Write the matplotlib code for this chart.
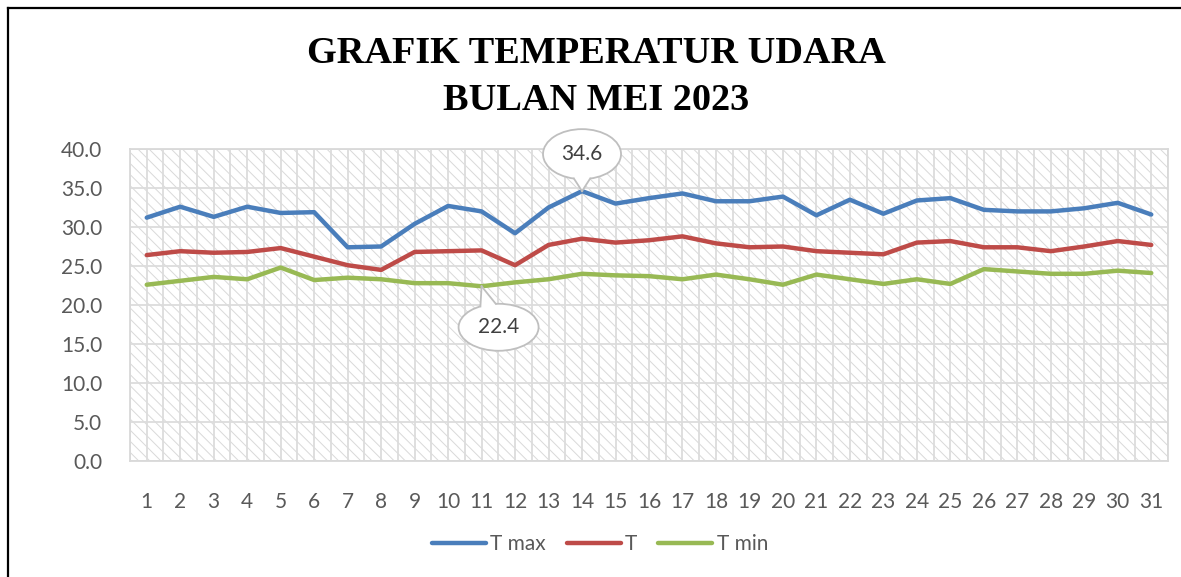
import matplotlib
matplotlib.use('Agg')
import matplotlib.pyplot as plt
from matplotlib.patches import Ellipse, Polygon
from matplotlib.lines import Line2D
from matplotlib.transforms import ScaledTranslation
from matplotlib.ticker import FormatStrFormatter
import numpy as np

days = list(range(1, 32))
t_max = [31.2, 32.6, 31.3, 32.6, 31.8, 31.9, 27.4, 27.5, 30.4, 32.7,
         32.0, 29.2, 32.5, 34.6, 33.0, 33.7, 34.3, 33.3, 33.3, 33.9,
         31.5, 33.5, 31.7, 33.4, 33.7, 32.2, 32.0, 32.0, 32.4, 33.1, 31.6]
t_avg = [26.4, 26.9, 26.7, 26.8, 27.3, 26.2, 25.1, 24.5, 26.8, 26.9,
         27.0, 25.1, 27.7, 28.5, 28.0, 28.3, 28.8, 27.9, 27.4, 27.5,
         26.9, 26.7, 26.5, 28.0, 28.2, 27.4, 27.4, 26.9, 27.5, 28.2, 27.7]
t_min = [22.6, 23.1, 23.6, 23.3, 24.8, 23.2, 23.5, 23.3, 22.8, 22.8,
         22.4, 22.9, 23.3, 24.0, 23.8, 23.7, 23.3, 23.9, 23.3, 22.6,
         23.9, 23.3, 22.7, 23.3, 22.7, 24.6, 24.3, 24.0, 24.0, 24.4, 24.1]
labels = ['T max', 'T', 'T min']
colors = ['#4a7ebb', '#be4b48', '#98b954']

plt.rcParams['font.family'] = ['Lato', 'DejaVu Sans']
plt.rcParams['hatch.color'] = '#d9d9d9'
plt.rcParams['hatch.linewidth'] = 0.7

fig = plt.figure(figsize=(11.81, 5.77), dpi=100)
ax = fig.add_axes([130/1181, 1-461/577, (1168-130)/1181, (461-149)/577])

# hatched plot area
ax.patch.set_facecolor('white')
ax.fill_between([0.5, 31.5], 0, 40, facecolor='none', edgecolor='#d9d9d9',
                hatch='\\\\\\', linewidth=0, zorder=0)

for s, c, l in zip([t_max, t_avg, t_min], colors, labels):
    ax.plot(days, s, color=c, lw=3.2, label=l, solid_capstyle='round',
            solid_joinstyle='round', zorder=3)

ax.set_xlim(0.5, 31.5)
ax.set_ylim(0, 40)
ax.set_xticks(days)
ax.set_xticks(np.arange(0.5, 32, 1), minor=True)
ax.set_yticks(np.arange(0, 41, 5))
ax.yaxis.set_major_formatter(FormatStrFormatter('%.1f'))
ax.tick_params(axis='both', which='both', length=0, labelsize=15,
               labelcolor='#595959')
ax.tick_params(axis='y', pad=20)
ax.tick_params(axis='x', pad=22)
ax.grid(True, which='major', color='#dcdcdc', lw=1.3, zorder=1)
ax.grid(True, which='minor', axis='x', color='#dcdcdc', lw=1.3, zorder=1)
ax.set_axisbelow(True)
for sp in ax.spines.values():
    sp.set_color('#d9d9d9')
    sp.set_linewidth(1.3)


def callout(xd, yd, text, cx, cy, w, h, a1, a2):
    tr = fig.dpi_scale_trans + ScaledTranslation(xd, yd, ax.transData)
    ell = Ellipse((cx, cy), w, h, facecolor='white', edgecolor='#bfbfbf',
                  lw=1.3, transform=tr, zorder=6, clip_on=False)
    ax.add_patch(ell)
    t1, t2 = np.radians(a1), np.radians(a2)
    b1 = (cx + w/2*np.cos(t1), cy + h/2*np.sin(t1))
    b2 = (cx + w/2*np.cos(t2), cy + h/2*np.sin(t2))
    i1 = (cx + 0.85*w/2*np.cos(t1), cy + 0.85*h/2*np.sin(t1))
    i2 = (cx + 0.85*w/2*np.cos(t2), cy + 0.85*h/2*np.sin(t2))
    ax.add_patch(Polygon([(0, 0), b1, i1, i2, b2], closed=True,
                         facecolor='white', edgecolor='none',
                         transform=tr, zorder=7, clip_on=False))
    for b in (b1, b2):
        ax.add_line(Line2D([0, b[0]], [0, b[1]], color='#bfbfbf', lw=1.3,
                           transform=tr, zorder=8, clip_on=False))
    ax.text(cx, cy, text, transform=tr, ha='center', va='center',
            fontsize=15, color='#404040', zorder=9)


callout(14, t_max[13], '34.6', 0.0, 0.37, 0.78, 0.5, 258, 282)
callout(11, t_min[10], '22.4', 0.17, -0.41, 0.80, 0.47, 94, 117)

fig.text(0.505, 1-77/577, 'GRAFIK TEMPERATUR UDARA\nBULAN MEI 2023',
         ha='center', va='center', fontsize=27.5, fontweight='bold',
         family='Liberation Serif', linespacing=1.42)

fig.legend(loc='center', bbox_to_anchor=(600/1181, 1-544/577), ncol=3,
           frameon=False, fontsize=15, handlelength=2.6, handletextpad=0.2,
           columnspacing=1.0, labelcolor='#595959')

# outer frame
fig.add_artist(Line2D([7.5/1181, 7.5/1181], [0, 1-7.5/577], color='black',
                      lw=1.6, transform=fig.transFigure))
fig.add_artist(Line2D([7.5/1181, 1], [1-7.5/577, 1-7.5/577], color='black',
                      lw=1.6, transform=fig.transFigure))

plt.savefig('out.png', dpi=100)
